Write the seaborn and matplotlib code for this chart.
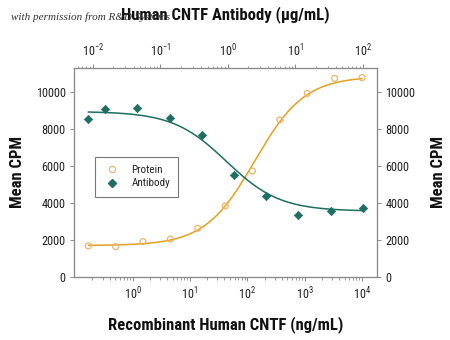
import numpy as np
import pandas as pd
import matplotlib
matplotlib.use("Agg")
import matplotlib.pyplot as plt
from matplotlib import font_manager
from matplotlib.lines import Line2D
import seaborn as sns

# ---- data ----
protein_conc = [0.169, 0.508, 1.52, 4.57, 13.7, 41.2, 123, 370, 1111, 3333, 10000]  # ng/mL
protein_cpm = [1680, 1640, 1910, 2050, 2630, 3840, 5730, 8490, 9930, 10740, 10780]
antibody_conc = [0.0085, 0.0152, 0.0457, 0.137, 0.412, 1.23, 3.70, 11.1, 33.3, 100]  # ug/mL
antibody_cpm = [8550, 9080, 9150, 8600, 7700, 5500, 4400, 3330, 3580, 3740]

# 4-parameter logistic fit parameters (bottom, top, EC50, hill)
protein_fit = (1700, 10850, 135.0, 1.0)
antibody_fit = (8950, 3560, 0.95, 1.1)

yticks = [0, 2000, 4000, 6000, 8000, 10000]

protein_color = "#E3A11F"
antibody_color = "#1E6E62"
spine_color = "#8a8a8a"

sns.set_style("white")
names = {f.name for f in font_manager.fontManager.ttflist}
fam = "DejaVu Sans"
for cand in ["Liberation Sans Narrow", "Roboto Condensed", "Open Sans Condensed"]:
    if cand in names:
        fam = cand
        break
plt.rcParams["font.family"] = [fam, "DejaVu Sans"]
plt.rcParams["font.stretch"] = "condensed"
plt.rcParams["mathtext.fontset"] = "custom"
plt.rcParams["mathtext.rm"] = fam
plt.rcParams["mathtext.it"] = fam

def logistic(x, p):
    bottom, top, ec50, hill = p
    return bottom + (top - bottom) / (1.0 + (ec50 / x) ** hill)

fig = plt.figure(figsize=(4.5, 3.4), dpi=100)
ax = fig.add_axes([0.1644, 0.1853, 0.6733, 0.6147])
ax_top = ax.twiny()
ax_right = ax.twinx()

# protein curve and points (bottom axis)
xp = np.logspace(np.log10(protein_conc[0]), np.log10(protein_conc[-1]), 300)
dfp = pd.DataFrame({"x": xp, "y": logistic(xp, protein_fit)})
sns.lineplot(data=dfp, x="x", y="y", ax=ax, color=protein_color, lw=1.1)
sns.scatterplot(x=protein_conc, y=protein_cpm, ax=ax, marker="o", s=18,
                facecolor="none", edgecolor="#EBB46A", linewidth=0.9, zorder=3)

# antibody curve and points (top axis)
xa = np.logspace(np.log10(antibody_conc[0]), np.log10(antibody_conc[-1]), 300)
dfa = pd.DataFrame({"x": xa, "y": logistic(xa, antibody_fit)})
sns.lineplot(data=dfa, x="x", y="y", ax=ax_top, color=antibody_color, lw=1.1)
sns.scatterplot(x=antibody_conc, y=antibody_cpm, ax=ax_top, marker="D", s=18,
                color=antibody_color, edgecolor=antibody_color, linewidth=0.5, zorder=3)

ax.set_xscale("log")
ax_top.set_xscale("log")
ax.set_xlim(10 ** -1.02, 10 ** 4.26)
ax_top.set_xlim(10 ** -2.28, 10 ** 2.21)
for a in (ax, ax_top, ax_right):
    a.set_ylim(0, 11300)

ax.set_yticks(yticks)
ax.set_yticklabels([str(v) for v in yticks])
ax_right.set_yticks(yticks)
ax_right.set_yticklabels([str(v) for v in yticks])
ax.set_xticks([1, 10, 100, 1000, 10000])
ax.set_xticklabels([r"$10^{0}$", r"$10^{1}$", r"$10^{2}$", r"$10^{3}$", r"$10^{4}$"])
ax_top.set_xticks([0.01, 0.1, 1, 10, 100])
ax_top.set_xticklabels([r"$10^{-2}$", r"$10^{-1}$", r"$10^{0}$", r"$10^{1}$", r"$10^{2}$"])

for a in (ax, ax_top, ax_right):
    for s in a.spines.values():
        s.set_color(spine_color)
        s.set_linewidth(0.8)
    a.tick_params(which="major", length=3, width=0.7, color=spine_color,
                  labelsize=8.8, labelcolor="#222222", pad=3)
    a.tick_params(which="minor", length=1.8, width=0.6, color=spine_color)
    a.grid(False)

lab_kw = dict(fontsize=12, fontweight="bold", color="#111111")
ax.set_xlabel("Recombinant Human CNTF (ng/mL)", labelpad=10, **lab_kw)
ax_top.set_xlabel("Human CNTF Antibody (\u00b5g/mL)", labelpad=17, **lab_kw)
ax.set_ylabel("Mean CPM", labelpad=8, **lab_kw)
ax_right.set_ylabel("Mean CPM", labelpad=11, rotation=90, **lab_kw)

handles = [
    Line2D([], [], marker="o", ls="none", markerfacecolor="none",
           markeredgecolor="#EBB46A", markersize=4.5, markeredgewidth=0.9, label="Protein"),
    Line2D([], [], marker="D", ls="none", color=antibody_color,
           markersize=4, label="Antibody"),
]
leg = ax_right.legend(handles=handles, loc="upper left", bbox_to_anchor=(0.07, 0.575),
                      frameon=True, fancybox=False, fontsize=8, handletextpad=0.9,
                      borderpad=0.75, labelspacing=0.3, borderaxespad=0, handlelength=1.6)
leg.get_frame().set_edgecolor("#555555")
leg.get_frame().set_linewidth(0.8)

fig.text(0.025, 0.94, "with permission from R&D Systems", fontsize=8,
         family=["Liberation Serif", "DejaVu Serif"], style="italic", color="#333333")

fig.savefig("out.png", dpi=100)
